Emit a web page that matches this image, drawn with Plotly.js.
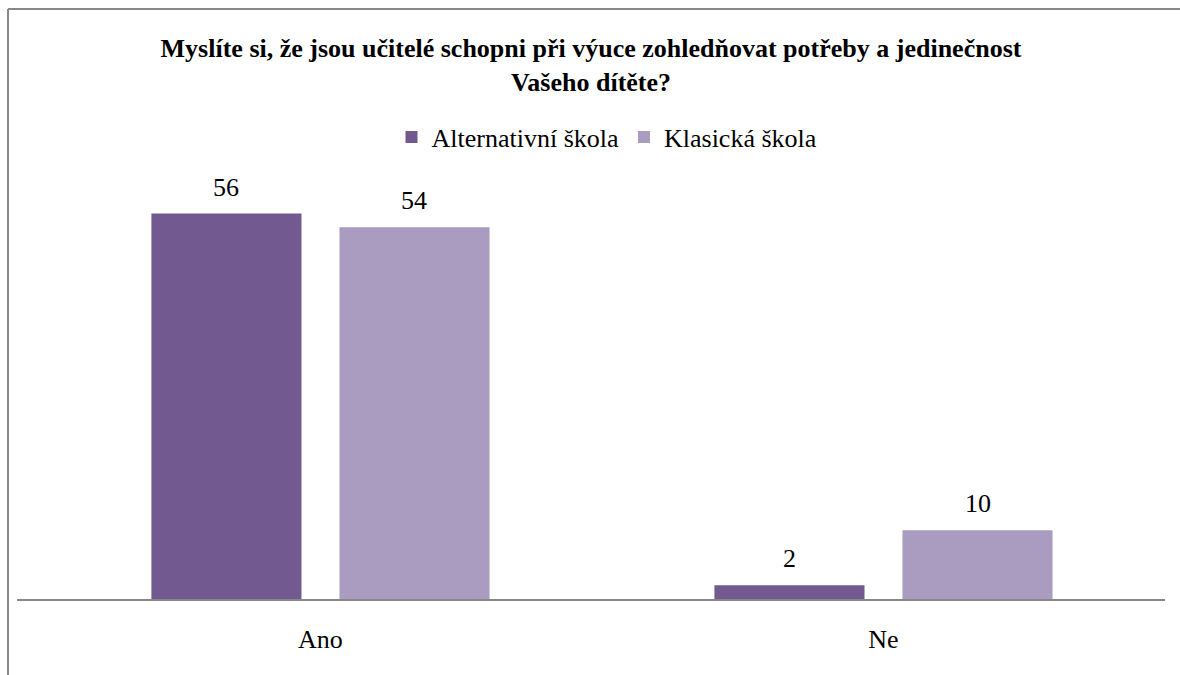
<!DOCTYPE html>
<html><head><meta charset="utf-8">
<script src="https://cdn.plot.ly/plotly-3.0.1.min.js"></script>
<style>body{margin:0;background:#fff}#chart{width:1180px;height:675px}</style>
</head><body><div id="chart"></div>
<script>
var categories = ["Ano", "Ne"];
var seriesNames = ["Alternativní škola", "Klasická škola"];
var alternativni = [56, 2];
var klasicka = [54, 10];
var colors = ["#72598F", "#AA9BC0"];
var serif = "Liberation Serif";

var W = 1180, H = 675, L = 17, R = 1165, T = 186, B = 599;
function px(x){ return (x - L) / (R - L); }
function py(y){ return (B - y) / (B - T); }

var bargap = 0.332, bargroupgap = 0.202;
var catPx = 563;                       // pixel width of one category
var slotPx = catPx * (1 - bargap) / 2; // width of each series slot

var series = [alternativni, klasicka];
var traces = series.map(function(vals, i){
  return {
    type: "bar", name: seriesNames[i], x: categories, y: vals,
    marker: {color: colors[i]}, hoverinfo: "none"
  };
});

var annotations = [];
series.forEach(function(vals, i){
  vals.forEach(function(v, j){
    annotations.push({
      x: categories[j], y: v, xref: "x", yref: "y",
      text: String(v), showarrow: false,
      xshift: (i - 0.5) * slotPx, yshift: 10, yanchor: "bottom",
      font: {family: serif, size: 26, color: "#000"}
    });
  });
});

var layout = {
  width: W, height: H,
  margin: {l: L, r: W - R, t: T, b: H - B, pad: 0},
  paper_bgcolor: "#fff", plot_bgcolor: "#fff",
  font: {family: serif, size: 26, color: "#000"},
  title: {
    text: "<b>Myslíte si, že jsou učitelé schopni při výuce zohledňovat potřeby a jedinečnost<br>Vašeho dítěte?</b>",
    font: {family: serif, size: 26, color: "#000"},
    x: 0.5, xref: "paper", xanchor: "center",
    y: 1 - 57 / H, yref: "container", yanchor: "middle"
  },
  showlegend: true,
  legend: {
    orientation: "h", x: px(607), xanchor: "center", y: py(137), yanchor: "middle",
    font: {family: serif, size: 26, color: "#000"}, itemwidth: 30, traceorder: "normal"
  },
  barmode: "group", bargap: bargap, bargroupgap: bargroupgap,
  xaxis: {
    type: "category", range: [-0.539, 1.5],
    showline: true, linecolor: "#888", linewidth: 2,
    showgrid: false, zeroline: false, ticks: "",
    ticklabelstandoff: 16,
    tickfont: {family: serif, size: 26, color: "#000"}
  },
  yaxis: {
    range: [0, 60], visible: false, showgrid: false, zeroline: false
  },
  annotations: annotations,
  shapes: [
    {type: "line", xref: "paper", yref: "paper", x0: px(8), x1: px(1180), y0: py(9), y1: py(9), line: {color: "#888", width: 2}},
    {type: "line", xref: "paper", yref: "paper", x0: px(8), x1: px(8), y0: py(9), y1: py(675), line: {color: "#888", width: 2}}
  ]
};
Plotly.newPlot("chart", traces, layout, {displayModeBar: false, staticPlot: true});
</script></body></html>
